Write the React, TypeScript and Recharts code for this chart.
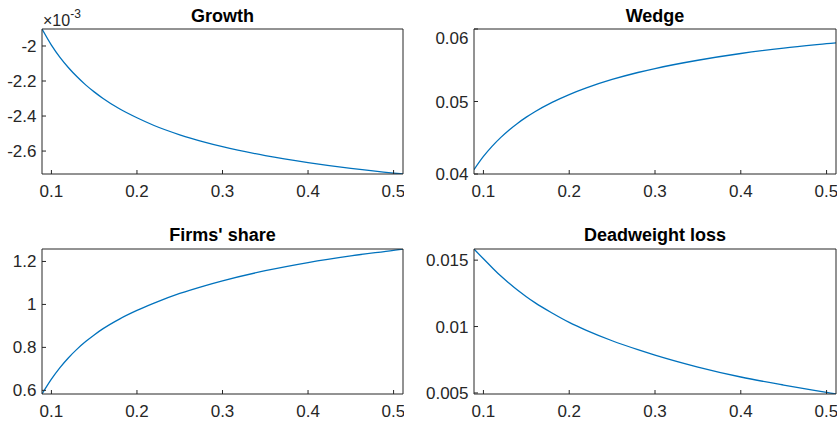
import React from "react";
import { LineChart, Line, XAxis, YAxis } from "recharts";

// x grid (same for all four panels)
const xs = [0.089, 0.1, 0.11, 0.12, 0.13, 0.14, 0.15, 0.16, 0.18, 0.2, 0.22, 0.25, 0.28, 0.3, 0.35, 0.4, 0.45, 0.5, 0.511];

// values (growth is in units of 1e-3, as on its axis)
const growth = [-1.903, -1.995, -2.065, -2.124, -2.176, -2.222, -2.262, -2.298, -2.36, -2.41, -2.454, -2.507, -2.55, -2.575, -2.626, -2.666, -2.699, -2.726, -2.731];
const wedge = [0.0406, 0.04242, 0.04381, 0.04502, 0.04608, 0.04701, 0.04784, 0.04859, 0.04988, 0.05096, 0.05188, 0.05304, 0.054, 0.05455, 0.05569, 0.05662, 0.05736, 0.05797, 0.0581];
const firmsShare = [0.583, 0.652, 0.706, 0.752, 0.792, 0.827, 0.858, 0.886, 0.933, 0.972, 1.006, 1.051, 1.088, 1.11, 1.157, 1.195, 1.226, 1.252, 1.258];
const deadweight = [0.01584, 0.0151, 0.01445, 0.01382, 0.01326, 0.01273, 0.01225, 0.0118, 0.01102, 0.01031, 0.00971, 0.00893, 0.00826, 0.00785, 0.00695, 0.0062, 0.00559, 0.00504, 0.00492];

const xTicks = [0.1, 0.2, 0.3, 0.4, 0.5];
const growthTicks = [-2.6, -2.4, -2.2, -2];
const wedgeTicks = [0.04, 0.05, 0.06];
const firmsTicks = [0.6, 0.8, 1, 1.2];
const dwlTicks = [0.005, 0.01, 0.015];

const AX = "#262626";
const FONT = "'Liberation Sans', Arial, Helvetica, sans-serif";
const tickStyle = { fontSize: 17, fill: AX, fontFamily: FONT };

const YW = 70;
const XH = 40;

interface PanelProps {
  values: number[];
  left: number;
  top: number;
  w: number;
  h: number;
  yDomain: [number, number];
  yTicks: number[];
}

const Panel: React.FC<PanelProps> = ({ values, left, top, w, h, yDomain, yTicks }) => {
  const data = xs.map((x, i) => ({ x, y: values[i] }));
  return (
    <div style={{ position: "absolute", left: left - YW, top: top - 1 }}>
      <LineChart width={YW + w + 1} height={1 + h + XH} data={data} margin={{ top: 0, right: 0, bottom: 0, left: 0 }}>
        <XAxis xAxisId="b" type="number" dataKey="x" domain={[0.089, 0.511]} ticks={xTicks} allowDataOverflow
          height={XH} tickSize={-4} tickMargin={15} stroke={AX} tick={tickStyle} />
        <XAxis xAxisId="t" orientation="top" type="number" dataKey="x" domain={[0.089, 0.511]} ticks={xTicks} allowDataOverflow
          height={1} tickSize={-4} stroke={AX} tick={false} />
        <YAxis yAxisId="l" type="number" domain={yDomain} ticks={yTicks} allowDataOverflow width={YW}
          tickSize={-4} tickMargin={9.5} stroke={AX} tick={tickStyle} />
        <YAxis yAxisId="r" orientation="right" type="number" domain={yDomain} ticks={yTicks} allowDataOverflow width={1}
          tickSize={-4} stroke={AX} tick={false} />
        <Line xAxisId="b" yAxisId="l" type="monotone" dataKey="y" stroke="#0072BD" strokeWidth={1.3} dot={false} isAnimationActive={false} />
      </LineChart>
    </div>
  );
};

const titleStyle = { fontSize: 18, fontWeight: 700, fontFamily: FONT, fill: "#000" } as const;

export default function App() {
  return (
    <div style={{ position: "absolute", left: 0, top: 0, width: 840, height: 423, background: "#fff", overflow: "hidden" }}>
      <Panel values={growth} left={42} top={29} w={361} h={145} yDomain={[-2.731, -1.903]} yTicks={growthTicks} />
      <Panel values={wedge} left={474} top={29} w={362} h={145} yDomain={[0.04, 0.06]} yTicks={wedgeTicks} />
      <Panel values={firmsShare} left={42} top={249} w={361} h={145} yDomain={[0.583, 1.258]} yTicks={firmsTicks} />
      <Panel values={deadweight} left={474} top={249} w={362} h={145} yDomain={[0.00492, 0.01584]} yTicks={dwlTicks} />
      <svg width={840} height={423} style={{ position: "absolute", left: 0, top: 0, pointerEvents: "none" }}>
        <text x={222.5} y={22} textAnchor="middle" style={titleStyle}>Growth</text>
        <text x={655} y={22} textAnchor="middle" style={titleStyle}>Wedge</text>
        <text x={222.5} y={241} textAnchor="middle" style={titleStyle}>Firms' share</text>
        <text x={655} y={241} textAnchor="middle" style={titleStyle}>Deadweight loss</text>
        <text x={43} y={26} style={{ fontSize: 16, fontFamily: FONT, fill: AX }}>
          ×10<tspan dy={-8} style={{ fontSize: 12 }}>-3</tspan>
        </text>
      </svg>
    </div>
  );
}
